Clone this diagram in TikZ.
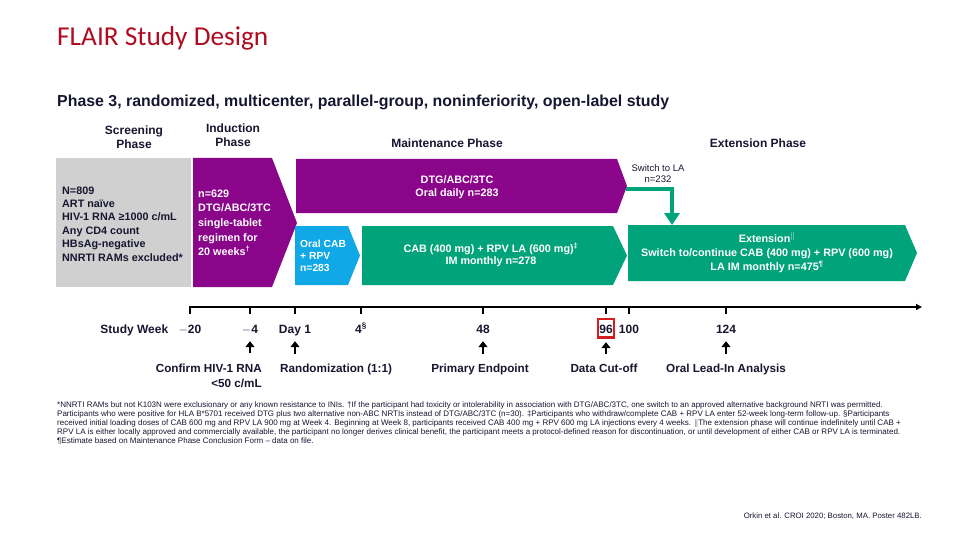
\documentclass[tikz,border=0pt]{standalone}
\usepackage{fontspec}
\setmainfont{Liberation Sans}
\newfontfamily\calibrifont{Carlito}
\usepackage{tikz}
\usetikzlibrary{arrows.meta, positioning}
\definecolor{flairred}{RGB}{176,12,32}
\definecolor{inkblue}{RGB}{22,22,48}
\definecolor{studypurple}{RGB}{139,5,139}
\definecolor{oralblue}{RGB}{16,168,230}
\definecolor{injgreen}{RGB}{0,163,122}
\definecolor{screengray}{RGB}{208,208,208}
\definecolor{cutred}{RGB}{210,30,30}

\begin{document}
\begin{tikzpicture}[
        x=1pt, y=-1pt,
        phase/.style={inner sep=0pt, align=center, text=inkblue,
                      font=\fontsize{12}{14}\selectfont\bfseries},
        boxtext/.style={inner sep=0pt, text=white,
                        font=\fontsize{10.8}{13.4}\selectfont\bfseries},
        wk/.style={anchor=base, inner sep=2pt, text height=9pt, text depth=2.5pt,
                   text=inkblue, font=\fontsize{12}{14}\selectfont\bfseries},
        event/.style={inner sep=2pt, text=inkblue,
                      font=\fontsize{11.7}{15.5}\selectfont\bfseries},
        axis/.style={line width=1.8pt, black},
        up/.style={-{Triangle[length=6pt,width=9pt]}, line width=2.3pt,
                   shorten <=8pt, shorten >=3.5pt},
        switch/.style={draw=injgreen, line width=4.5pt,
                       -{Triangle[length=12pt,width=15pt]}},
        note/.style={inner sep=0pt, align=left, text=inkblue,
                     font=\fontsize{8}{9}\selectfont},
      ]
      \useasboundingbox (0,0) rectangle (960,540);

      \node[anchor=base west, inner sep=0pt, text=flairred,
            font=\calibrifont\fontsize{27.3}{30}\selectfont] (title) at (57,46) {FLAIR Study Design};
      \node[anchor=base west, inner sep=0pt, text=inkblue,
            font=\fontsize{15.9}{18}\selectfont\bfseries] (subtitle) at (57,106.5)
        {Phase 3, randomized, multicenter, parallel-group, noninferiority, open-label study};

      \node[phase, anchor=south] (scrhead) at (134,149) {Screening\\Phase};
      \node[phase, anchor=south] (indhead) at (233,147) {Induction\\Phase};
      \node[phase, anchor=base] (mainhead) at (447,148) {Maintenance Phase};
      \node[phase, anchor=base] (exthead) at (758,148) {Extension Phase};

      \fill[screengray] (56,158) rectangle (191,287);
      \fill[studypurple] (193,158) -- (272,158) -- (297,223) -- (272,287) -- (193,287) -- cycle;
      \fill[studypurple] (296,159) -- (617,159) -- (627,186) -- (617,213) -- (296,213) -- cycle;
      \fill[oralblue] (295,226) -- (348,226) -- (360,255.5) -- (348,285) -- (295,285) -- cycle;
      \fill[injgreen] (362,226) -- (613,226) -- (627,255.5) -- (613,285) -- (362,285) -- cycle;
      \fill[injgreen] (628,225) -- (905,225) -- (917,253) -- (905,281) -- (628,281) -- cycle;

      \node[boxtext, text=inkblue, anchor=south west, align=left] (screen) at (62,261.5)
        {N=809\\ART naïve\\HIV-1 RNA ≥1000 c/mL\\Any CD4 count\\HBsAg-negative\\NNRTI RAMs excluded*};
      \node[boxtext, anchor=south west, align=left,
            font=\fontsize{10.8}{14.6}\selectfont\bfseries] (induct) at (198,256)
        {n=629\\DTG/ABC/3TC\\single-tablet\\regimen for\\20 weeks\textsuperscript{†}};
      \node[boxtext, anchor=south, align=center] (dtg) at (457,199)
        {DTG/ABC/3TC\\Oral daily n=283};
      \node[boxtext, anchor=south west, align=left,
            font=\fontsize{10.3}{12}\selectfont\bfseries] (oral) at (300,271.5)
        {Oral CAB\\+ RPV\\n=283};
      \node[boxtext, anchor=south, align=center,
            font=\fontsize{10.8}{12.7}\selectfont\bfseries] (cab) at (491,267.2)
        {CAB (400 mg) + RPV LA (600 mg)\textsuperscript{‡}\\IM monthly n=278};
      \node[boxtext, anchor=south, align=center,
            font=\fontsize{10.8}{14}\selectfont\bfseries] (ext) at (767,272.9)
        {Extension\textsuperscript{$\|$}\\Switch to/continue CAB (400 mg) + RPV (600 mg)\\LA IM monthly n=475\textsuperscript{¶}};

      \node[anchor=south, align=center, inner sep=0pt, text=inkblue,
            font=\fontsize{9.5}{11}\selectfont] (swlbl) at (658,182.5) {Switch to LA\\n=232};
      \coordinate (dtgtip) at (626,189);
      \coordinate (exttop) at (672,225);
      \draw[switch] (dtgtip) -| (exttop);

      \draw[axis, -{Triangle[length=6pt,width=6pt]}] (190,307) -- (922,307);
      \foreach \x/\nm/\lbl in {190/wm20/{$-$20}, 250/wm4/{$-$4}, 295/wd1/{Day 1},
                               361/w4/{4\textsuperscript{§}}, 483/w48/48, 606/w96/96,
                               629/w100/100, 726/w124/124}{
        \node[wk] (\nm) at (\x,333) {\lbl};
        \draw[axis] (\x,306) -- (\x,313.5);
      }
      \node[wk, anchor=east, left=6pt of wm20] (stwk) {Study Week};
      \node[draw=cutred, line width=2.4pt, minimum width=15.6pt, minimum height=18.6pt,
            inner sep=0pt] (cutbox) at ([yshift=4.8pt]w96.base) {};

      \node[event, anchor=south east, align=right] (conf) at (264,390) {Confirm HIV-1 RNA\\<50 c/mL};
      \node[event, anchor=base west] (rand) at (278,372.5) {Randomization (1:1)};
      \node[event, anchor=base] (prim) at (480,372.5) {Primary Endpoint};
      \node[event, anchor=base] (cut) at (604,372.5) {Data Cut-off};
      \node[event, anchor=base] (olia) at (726,372.5) {Oral Lead-In Analysis};

      \draw[up] (conf.north -| wm4.south) -- (wm4.south);
      \draw[up] (rand.north -| wd1.south) -- (wd1.south);
      \draw[up] (prim.north -| w48.south) -- (w48.south);
      \draw[up] (cut.north -| cutbox.south) -- (cutbox.south);
      \draw[up] (olia.north -| w124.south) -- (w124.south);

      \node[note, anchor=south west] (notes) at (57,445)
        {*NNRTI RAMs but not K103N were exclusionary or any known resistance to INIs. †If the participant had toxicity or intolerability in association with DTG/ABC/3TC, one switch to an approved alternative background NRTI was permitted.\\
         Participants who were positive for HLA B*5701 received DTG plus two alternative non-ABC NRTIs instead of DTG/ABC/3TC (n=30). ‡Participants who withdraw/complete CAB + RPV LA enter 52-week long-term follow-up. §Participants\\
         received initial loading doses of CAB 600 mg and RPV LA 900 mg at Week 4. Beginning at Week 8, participants received CAB 400 mg + RPV 600 mg LA injections every 4 weeks. $\|$The extension phase will continue indefinitely until CAB +\\
         RPV LA is either locally approved and commercially available, the participant no longer derives clinical benefit, the participant meets a protocol-defined reason for discontinuation, or until development of either CAB or RPV LA is terminated.\\
         ¶Estimate based on Maintenance Phase Conclusion Form – data on file.};
      \node[anchor=base east, inner sep=0pt, text=inkblue,
            font=\fontsize{7.8}{9}\selectfont] (cite) at (922,518)
        {Orkin et al. CROI 2020; Boston, MA. Poster 482LB.};
    \end{tikzpicture}
\end{document}
